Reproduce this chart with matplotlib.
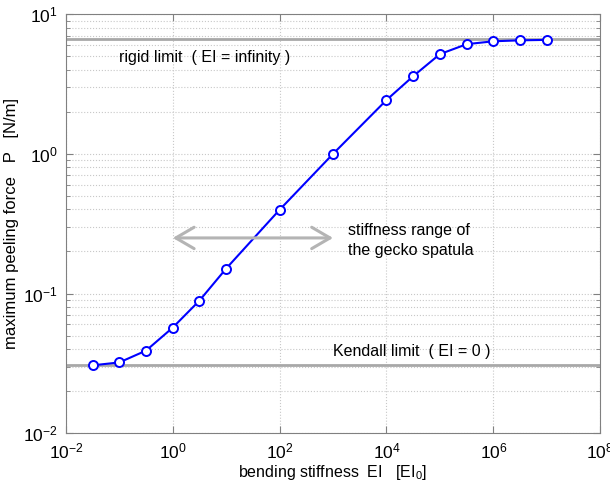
import numpy as np
import matplotlib
matplotlib.use("Agg")
import matplotlib.pyplot as plt
from matplotlib.ticker import LogLocator, NullFormatter, NullLocator

plt.rcParams['font.family'] = ['Liberation Sans', 'DejaVu Sans']
plt.rcParams['mathtext.fontset'] = 'custom'
plt.rcParams['mathtext.rm'] = 'Liberation Sans'
plt.rcParams['mathtext.it'] = 'Liberation Sans'

# data
stiffness = [10**-1.5, 1e-1, 10**-0.5, 1e0, 10**0.5, 1e1, 1e2, 1e3,
             1e4, 10**4.5, 1e5, 10**5.5, 1e6, 10**6.5, 1e7]
peel_force = [0.0306, 0.0321, 0.039, 0.057, 0.089, 0.151, 0.398, 1.0,
              2.43, 3.6, 5.18, 6.1, 6.4, 6.5, 6.55]
rigid_limit = 6.6
kendall_limit = 0.0306
gecko_range = [1e0, 1e3]

fig = plt.figure(figsize=(6.1, 4.9), dpi=100)
ax = fig.add_axes([0.108, 0.116, 0.876, 0.855])

grey = '#a8a8a8'
ax.axhline(rigid_limit, color=grey, lw=2, zorder=2)
ax.axhline(kendall_limit, color=grey, lw=2, zorder=2)

ax.plot(stiffness, peel_force, color='blue', lw=1.5, marker='o', ms=6.5,
        mfc='white', mec='blue', mew=1.4, zorder=3)

ax.annotate('', xy=(gecko_range[0], 0.25), xytext=(gecko_range[1], 0.25),
            arrowprops=dict(arrowstyle='<->, head_length=0.6, head_width=0.35',
                            color='#b4b4b4', lw=2.2, mutation_scale=22,
                            shrinkA=0, shrinkB=0))

fs = 11.5
ax.text(0.1, 4.9, 'rigid limit  ( EI = infinity )', fontsize=fs,
        va='center', ha='left')
ax.text(10**3.28, 0.24, 'stiffness range of\nthe gecko spatula', fontsize=fs,
        va='center', ha='left', linespacing=1.45)
ax.text(1e3, 0.0386, 'Kendall limit  ( EI = 0 )', fontsize=fs,
        va='center', ha='left')

ax.set_xscale('log')
ax.set_yscale('log')
ax.set_xlim(1e-2, 1e8)
ax.set_ylim(1e-2, 1e1)
ax.xaxis.set_major_locator(LogLocator(base=100))
ax.xaxis.set_minor_locator(NullLocator())
ax.yaxis.set_minor_locator(LogLocator(base=10, subs=np.arange(2, 10)))
ax.yaxis.set_minor_formatter(NullFormatter())

ax.grid(True, which='major', color='#c8c8c8', ls=':', lw=0.8)
ax.grid(True, which='minor', axis='y', color='#c8c8c8', ls=':', lw=0.8)
ax.set_axisbelow(True)

for s in ax.spines.values():
    s.set_color('#808080')
ax.tick_params(which='both', direction='in', colors='#808080',
               labelcolor='black', labelsize=12.5, top=True, right=True)
ax.tick_params(which='major', length=5, pad=6)
ax.tick_params(which='minor', length=3)

ax.set_xlabel('bending stiffness  EI   [EI$_0$]', fontsize=fs, labelpad=1)
ax.set_ylabel('maximum peeling force   P   [N/m]', fontsize=12, labelpad=3)

fig.savefig('out.png', dpi=100)
